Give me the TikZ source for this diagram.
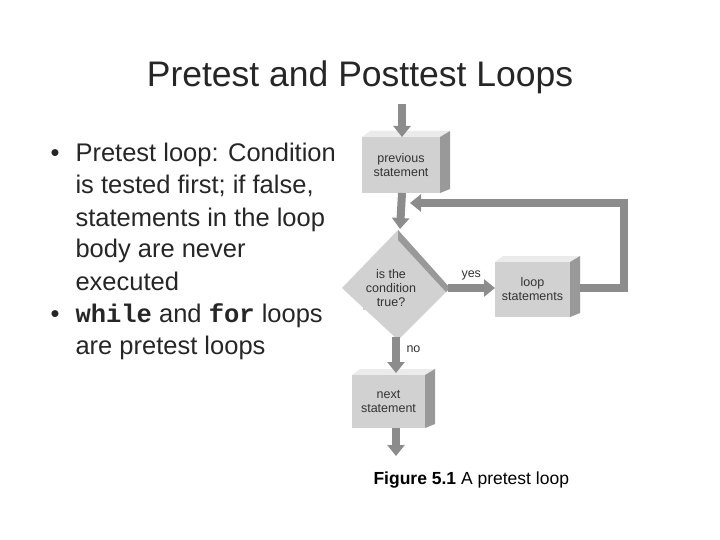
\documentclass[tikz,border=0pt]{standalone}
\usepackage{fontspec}
\setmainfont{Liberation Sans}
\setmonofont{Liberation Mono}
\usetikzlibrary{arrows.meta,shapes.geometric}
\begin{document}
\begin{tikzpicture}[x=1pt,y=-1pt,
  front/.style={fill=black!18,draw=none,align=center,font=\fontsize{12.5}{14}\selectfont,text=black!80},
  flow/.style={draw=black!45,line width=8pt,-{Triangle[width=17pt,length=11pt]}},
  body/.style={anchor=base west,font=\fontsize{25.5}{28}\selectfont,text=black!85}]
\useasboundingbox (0,0) rectangle (720,540);
\newcommand{\mybox}[5]{% name, x1,y1,x2,y2
  \fill[black!8] (#2,#3) -- (#2+8,#3-6) -- (#4+10,#3-6) -- (#4,#3) -- cycle;
  \fill[black!40] (#4,#3) -- (#4+10,#3-6) -- (#4+10,#5-4) -- (#4,#5) -- cycle;
  \fill[black!18] (#2,#3) rectangle (#4,#5);
  \coordinate (#1) at ({(#2+#4)/2},{(#3+#5)/2});
}
\node[anchor=base,font=\fontsize{35.5}{38}\selectfont,text=black!85] (title) at (360,87) {Pretest and Posttest Loops};
\node[body] (b1) at (47,162) {•};
\node[body] (l1) at (72,162) {Pretest loop: Condition};
\node[body] (l2) at (72,194) {is tested first; if false,};
\node[body] (l3) at (72,226) {statements in the loop};
\node[body] (l4) at (72,258) {body are never};
\node[body] (l5) at (72,290) {executed};
\node[body] (b2) at (47,322) {•};
\node[body] (l6) at (72,322) {\textbf{\texttt{while}} and \textbf{\texttt{for}} loops};
\node[body] (l7) at (72,354) {are pretest loops};
% boxes
\mybox{prev}{362}{137}{440}{193}
\mybox{loop}{495}{262}{570}{317}
\mybox{next}{352}{375}{425}{428}
\node[front] (prevt) at (prev) {previous\\statement};
\node[front] (loopt) at (loop) {loop\\statements};
\node[front] (nextt) at (next) {next\\statement};
% diamond
\fill[black!18] (342,288) -- (398,230) -- (450,288) -- (398,340) -- cycle;
\fill[black!40] (398,230) -- (450,288) -- (446,292) -- (398,240) -- cycle;
\node[front] (cond) at (391,288) {is the\\condition\\true?};
\coordinate (dtop) at (400,229);
\coordinate (dright) at (448,288);
\coordinate (dbot) at (396,337);
% arrows
\coordinate (in) at (402,104);
\coordinate (out) at (396,456);
\draw[flow] (in) -- (402,137);
\draw[flow] (402,193) -- (dtop);
\draw[flow] (dright) -- (495,288);
\draw[flow] (580,288) -- (624,288) -- (624,203) -- (410,203);
\draw[flow] (dbot) -- (396,373);
\draw[flow] (396,428) -- (out);
\node[anchor=base west,font=\fontsize{12.5}{14}\selectfont,text=black!80] (yes) at (458,277) {yes};
\node[anchor=base west,font=\fontsize{12.5}{14}\selectfont,text=black!80] (no) at (403,352) {no};
\node[anchor=base west,font=\fontsize{17.5}{19}\selectfont] (cap) at (370,484) {\textbf{Figure 5.1} A pretest loop};
\end{tikzpicture}
\end{document}
